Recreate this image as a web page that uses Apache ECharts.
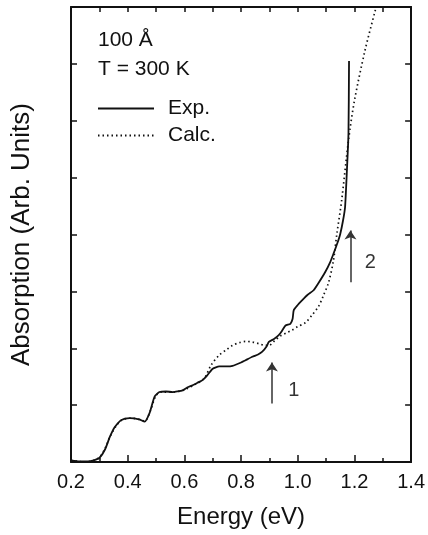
<!DOCTYPE html>
<html>
<head>
<meta charset="utf-8">
<script src="https://cdn.jsdelivr.net/npm/echarts@6/dist/echarts.min.js"></script>
<style>
  html, body { margin: 0; padding: 0; background: #fff; }
  #chart { width: 428px; height: 535px; }
</style>
</head>
<body>
<div id="chart"></div>
<script>
var chartDom = document.getElementById('chart');
var chart = echarts.init(chartDom, null, { renderer: 'canvas' });

// Measured absorption (solid)
var expEnergy = [0.20, 0.23, 0.26, 0.28, 0.30, 0.32, 0.337, 0.354, 0.378, 0.407, 0.44, 0.46, 0.477, 0.495,
    0.512, 0.535, 0.559, 0.575, 0.594, 0.61, 0.629, 0.645, 0.664, 0.68, 0.70, 0.723, 0.75, 0.77, 0.80,
    0.816, 0.84, 0.86, 0.875, 0.89, 0.898, 0.915, 0.933, 0.945, 0.957, 0.974, 0.982, 0.986, 1.0, 1.015,
    1.035, 1.056, 1.075, 1.097, 1.115, 1.126, 1.14, 1.15, 1.16, 1.167, 1.173, 1.179, 1.181];
var expAbs = [0.03, 0.01, 0.01, 0.03, 0.07, 0.22, 0.44, 0.61, 0.74, 0.77, 0.75, 0.71, 0.86, 1.15,
    1.23, 1.24, 1.23, 1.24, 1.26, 1.31, 1.35, 1.39, 1.44, 1.52, 1.64, 1.68, 1.68, 1.69, 1.75,
    1.79, 1.85, 1.89, 1.94, 2.03, 2.11, 2.16, 2.23, 2.31, 2.40, 2.43, 2.52, 2.67, 2.76, 2.84,
    2.94, 3.02, 3.16, 3.34, 3.52, 3.66, 3.85, 4.01, 4.25, 4.48, 5.07, 5.77, 7.05];

// Calculated absorption (dotted)
var calcEnergy = [0.20, 0.25, 0.28, 0.30, 0.32, 0.34, 0.36, 0.38, 0.41, 0.44, 0.46, 0.48, 0.50, 0.52,
    0.56, 0.60, 0.64, 0.67, 0.694, 0.723, 0.75, 0.77, 0.795, 0.816, 0.84, 0.863, 0.885, 0.898, 0.92,
    0.94, 0.96, 0.98, 1.0, 1.027, 1.05, 1.074, 1.09, 1.109, 1.126, 1.138, 1.155, 1.179, 1.2, 1.237,
    1.273, 1.285];
var calcAbs = [0.03, 0.0, 0.03, 0.08, 0.24, 0.47, 0.64, 0.74, 0.77, 0.75, 0.72, 0.90, 1.17, 1.23,
    1.23, 1.27, 1.37, 1.47, 1.70, 1.88, 1.98, 2.05, 2.10, 2.12, 2.11, 2.08, 2.05, 2.05, 2.14,
    2.22, 2.27, 2.32, 2.38, 2.45, 2.58, 2.74, 2.92, 3.16, 3.54, 4.01, 4.60, 5.65, 6.35, 7.23,
    7.93, 8.15];

// Arrows marking transitions
var arrowLabels = ['1', '2'];
var arrowEnergy = [0.909, 1.186];
var arrowFrom = [1.03, 3.16];
var arrowTo = [1.75, 4.07];
var arrowLabelPos = [[0.986, 1.26], [1.256, 3.51]];

var xTicks = ['0.2', '0.4', '0.6', '0.8', '1.0', '1.2', '1.4'];

function zip(a, b) {
    return a.map(function (v, i) { return [v, b[i]]; });
}

var font = 'Liberation Sans, Arial, Helvetica, sans-serif';
var ink = '#111';

var option = {
    animation: false,
    backgroundColor: '#fff',
    grid: { left: 71, right: 15, top: 7, bottom: 73 },
    legend: {
        data: ['Exp.', 'Calc.'],
        orient: 'vertical',
        left: 92,
        top: 93,
        itemWidth: 56,
        itemHeight: 14,
        itemGap: 6,
        itemStyle: { opacity: 0 },
        textStyle: { fontFamily: font, fontSize: 21, color: ink, padding: [0, 0, 0, 9] },
        selectedMode: false
    },
    graphic: [
        { type: 'text', left: 98, top: 30, style: { text: '100 Å', font: '21px ' + font, fill: ink } },
        { type: 'text', left: 98, top: 59, style: { text: 'T = 300 K', font: '21px ' + font, fill: ink } }
    ],
    xAxis: [{
        type: 'value',
        min: 0.2,
        max: 1.4,
        interval: 0.2,
        name: 'Energy (eV)',
        nameLocation: 'middle',
        nameGap: 43,
        nameTextStyle: { fontFamily: font, fontSize: 24, color: ink },
        axisLine: { onZero: false, lineStyle: { color: ink, width: 2 } },
        axisTick: { inside: true, length: 7, lineStyle: { color: ink, width: 1.5 } },
        minorTick: { show: true, splitNumber: 2, length: 4, lineStyle: { color: ink, width: 1.5 } },
        axisLabel: {
            fontFamily: font, fontSize: 20, color: ink, margin: 10,
            formatter: function (v) { return xTicks[Math.round((v - 0.2) / 0.2)]; }
        },
        splitLine: { show: false }
    }, {
        type: 'value',
        position: 'top',
        min: 0.2,
        max: 1.4,
        interval: 0.1,
        axisLine: { show: true, onZero: false, lineStyle: { color: ink, width: 2 } },
        axisTick: { show: true, inside: true, length: 5, lineStyle: { color: ink, width: 1.5 } },
        axisLabel: { show: false },
        splitLine: { show: false }
    }],
    yAxis: [{
        type: 'value',
        min: 0,
        max: 8,
        interval: 1,
        name: 'Absorption (Arb. Units)',
        nameLocation: 'middle',
        nameGap: 36,
        nameTextStyle: { fontFamily: font, fontSize: 26, color: ink },
        axisLine: { show: true, onZero: false, lineStyle: { color: ink, width: 2 } },
        axisTick: { show: true, inside: true, length: 6, lineStyle: { color: ink, width: 1.5 } },
        axisLabel: { show: false },
        splitLine: { show: false }
    }, {
        type: 'value',
        position: 'right',
        min: 0,
        max: 8,
        interval: 1,
        axisLine: { show: true, onZero: false, lineStyle: { color: ink, width: 2 } },
        axisTick: { show: true, inside: true, length: 6, lineStyle: { color: ink, width: 1.5 } },
        axisLabel: { show: false },
        splitLine: { show: false }
    }],
    series: [{
        name: 'Exp.',
        type: 'line',
        data: zip(expEnergy, expAbs),
        symbol: 'none',
        smooth: 0.2,
        lineStyle: { color: ink, width: 1.8 },
        itemStyle: { color: ink },
        z: 3
    }, {
        name: 'Calc.',
        type: 'line',
        data: zip(calcEnergy, calcAbs),
        symbol: 'none',
        smooth: 0.3,
        lineStyle: { color: ink, width: 1.7, type: [1.5, 3] },
        itemStyle: { color: ink },
        z: 2
    }, {
        name: 'arrows',
        type: 'scatter',
        data: arrowLabelPos.map(function (p, i) { return { value: p, label: { formatter: arrowLabels[i] } }; }),
        symbolSize: 1,
        itemStyle: { color: 'rgba(0,0,0,0)' },
        label: { show: true, position: 'inside', fontFamily: font, fontSize: 20, color: '#000', textBorderWidth: 0 },
        markLine: {
            silent: true,
            symbol: ['none', 'arrow'],
            symbolSize: 9,
            label: { show: false },
            itemStyle: { color: '#333' },
            lineStyle: { color: '#333', width: 1.5, type: 'solid' },
            data: arrowEnergy.map(function (e, i) {
                return [{ coord: [e, arrowFrom[i]] }, { coord: [e, arrowTo[i]] }];
            })
        }
    }]
};

chart.setOption(option);
window.addEventListener('resize', function () {
    chart.resize();
});
</script>
</body>
</html>
